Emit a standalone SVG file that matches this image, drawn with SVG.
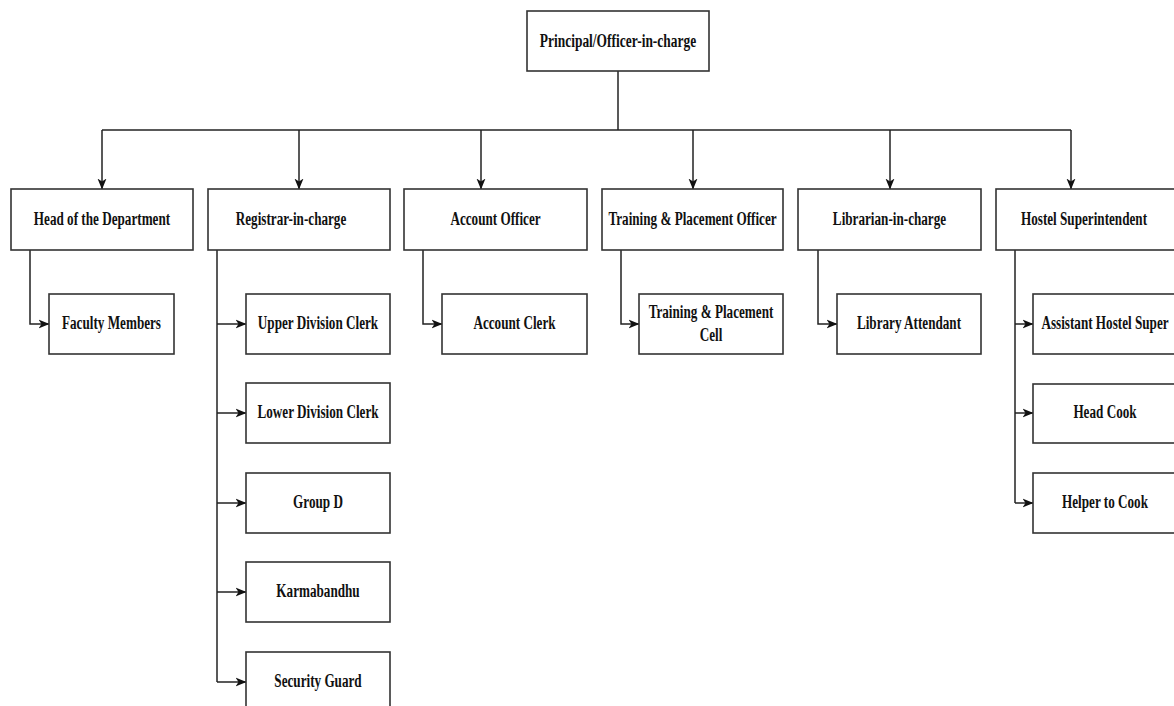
<svg xmlns="http://www.w3.org/2000/svg" width="1174" height="706" viewBox="0 0 1174 706">
<style>
.box{fill:#fff;stroke:#333;stroke-width:1.6}
.lbl{font-family:"Liberation Serif","Times New Roman",serif;font-weight:bold;font-size:19.5px;fill:#111;text-anchor:middle}
.ln{fill:none;stroke:#222;stroke-width:1.5}
</style>
<defs>
<marker id="ah" viewBox="0 0 11 10" refX="10.5" refY="5" markerWidth="11" markerHeight="10" markerUnits="userSpaceOnUse" orient="auto">
<path d="M0,0.5 L11,5 L0,9.5 L3,5 z" fill="#111"/>
</marker>
</defs>
<rect width="1174" height="706" fill="#fff"/>
<g id="connectors">
<path class="ln" d="M618,71 V130"/>
<path class="ln" d="M102,130 H1071"/>
<path class="ln" marker-end="url(#ah)" d="M102,130 V189"/>
<path class="ln" marker-end="url(#ah)" d="M299,130 V189"/>
<path class="ln" marker-end="url(#ah)" d="M481,130 V189"/>
<path class="ln" marker-end="url(#ah)" d="M693,130 V189"/>
<path class="ln" marker-end="url(#ah)" d="M890,130 V189"/>
<path class="ln" marker-end="url(#ah)" d="M1071,130 V189"/>
<path class="ln" marker-end="url(#ah)" d="M30,250 V324 H49"/>
<path class="ln" d="M217,250 V682"/>
<path class="ln" marker-end="url(#ah)" d="M217,324 H246"/>
<path class="ln" marker-end="url(#ah)" d="M217,413 H246"/>
<path class="ln" marker-end="url(#ah)" d="M217,503 H246"/>
<path class="ln" marker-end="url(#ah)" d="M217,592 H246"/>
<path class="ln" marker-end="url(#ah)" d="M217,682 H246"/>
<path class="ln" marker-end="url(#ah)" d="M423,250 V324 H442"/>
<path class="ln" marker-end="url(#ah)" d="M621,250 V324 H639"/>
<path class="ln" marker-end="url(#ah)" d="M818,250 V324 H837"/>
<path class="ln" d="M1015,250 V503"/>
<path class="ln" marker-end="url(#ah)" d="M1015,324 H1033"/>
<path class="ln" marker-end="url(#ah)" d="M1015,413 H1033"/>
<path class="ln" marker-end="url(#ah)" d="M1015,503 H1033"/>
</g>
<g id="principal"><rect class="box" x="527" y="11" width="182" height="60"/><text class="lbl" transform="translate(618,47) scale(0.69,1)">Principal/Officer-in-charge</text></g>
<g id="hod"><rect class="box" x="11" y="189" width="182" height="61"/><text class="lbl" transform="translate(102,225) scale(0.675,1)">Head of the Department</text></g>
<g id="registrar"><rect class="box" x="208" y="189" width="182" height="61"/><text class="lbl" transform="translate(291,225) scale(0.675,1)">Registrar-in-charge</text></g>
<g id="account-officer"><rect class="box" x="404" y="189" width="183" height="61"/><text class="lbl" transform="translate(495.5,225) scale(0.675,1)">Account Officer</text></g>
<g id="tpo"><rect class="box" x="602" y="189" width="181" height="61"/><text class="lbl" transform="translate(692.5,225) scale(0.675,1)">Training &amp; Placement Officer</text></g>
<g id="librarian"><rect class="box" x="798" y="189" width="183" height="61"/><text class="lbl" transform="translate(889.5,225) scale(0.675,1)">Librarian-in-charge</text></g>
<g id="hostel-super"><rect class="box" x="996" y="189" width="182" height="61"/><text class="lbl" transform="translate(1084,225) scale(0.675,1)">Hostel Superintendent</text></g>
<g id="faculty"><rect class="box" x="49" y="294" width="125" height="60"/><text class="lbl" transform="translate(111.5,329) scale(0.675,1)">Faculty Members</text></g>
<g id="udc"><rect class="box" x="246" y="294" width="144" height="60"/><text class="lbl" transform="translate(318,329) scale(0.675,1)">Upper Division Clerk</text></g>
<g id="ldc"><rect class="box" x="246" y="383" width="144" height="60"/><text class="lbl" transform="translate(318,418) scale(0.675,1)">Lower Division Clerk</text></g>
<g id="groupd"><rect class="box" x="246" y="473" width="144" height="60"/><text class="lbl" transform="translate(318,508) scale(0.675,1)">Group D</text></g>
<g id="karmabandhu"><rect class="box" x="246" y="562" width="144" height="60"/><text class="lbl" transform="translate(318,597) scale(0.675,1)">Karmabandhu</text></g>
<g id="security"><rect class="box" x="246" y="652" width="144" height="60"/><text class="lbl" transform="translate(318,687) scale(0.675,1)">Security Guard</text></g>
<g id="account-clerk"><rect class="box" x="442" y="294" width="145" height="60"/><text class="lbl" transform="translate(514.5,329) scale(0.675,1)">Account Clerk</text></g>
<g id="tp-cell"><rect class="box" x="639" y="294" width="144" height="60"/><text class="lbl" transform="translate(711,318) scale(0.675,1)">Training &amp; Placement</text><text class="lbl" transform="translate(711,341) scale(0.675,1)">Cell</text></g>
<g id="library-attendant"><rect class="box" x="837" y="294" width="144" height="60"/><text class="lbl" transform="translate(909,329) scale(0.675,1)">Library Attendant</text></g>
<g id="asst-hostel"><rect class="box" x="1033" y="294" width="144" height="60"/><text class="lbl" transform="translate(1105,329) scale(0.675,1)">Assistant Hostel Super</text></g>
<g id="head-cook"><rect class="box" x="1033" y="384" width="144" height="59"/><text class="lbl" transform="translate(1105,418) scale(0.675,1)">Head Cook</text></g>
<g id="helper-cook"><rect class="box" x="1033" y="473" width="144" height="60"/><text class="lbl" transform="translate(1105,508) scale(0.675,1)">Helper to Cook</text></g>
</svg>
